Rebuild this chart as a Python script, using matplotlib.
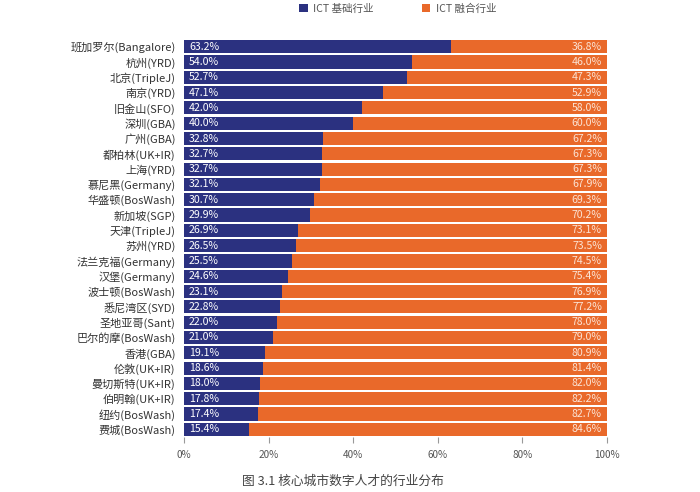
import numpy as np
import matplotlib.pyplot as plt

plt.rcParams['font.family'] = ['Noto Sans CJK SC', 'DejaVu Sans']

cities = ['班加罗尔(Bangalore)', '杭州(YRD)', '北京(TripleJ)', '南京(YRD)', '旧金山(SFO)',
          '深圳(GBA)', '广州(GBA)', '都柏林(UK+IR)', '上海(YRD)', '慕尼黑(Germany)',
          '华盛顿(BosWash)', '新加坡(SGP)', '天津(TripleJ)', '苏州(YRD)', '法兰克福(Germany)',
          '汉堡(Germany)', '波士顿(BosWash)', '悉尼湾区(SYD)', '圣地亚哥(Sant)', '巴尔的摩(BosWash)',
          '香港(GBA)', '伦敦(UK+IR)', '曼切斯特(UK+IR)', '伯明翰(UK+IR)', '纽约(BosWash)', '费城(BosWash)']
basic = [63.2, 54.0, 52.7, 47.1, 42.0, 40.0, 32.8, 32.7, 32.7, 32.1, 30.7, 29.9, 26.9, 26.5,
         25.5, 24.6, 23.1, 22.8, 22.0, 21.0, 19.1, 18.6, 18.0, 17.8, 17.4, 15.4]
fused = [36.8, 46.0, 47.3, 52.9, 58.0, 60.0, 67.2, 67.3, 67.3, 67.9, 69.3, 70.2, 73.1, 73.5,
         74.5, 75.4, 76.9, 77.2, 78.0, 79.0, 80.9, 81.4, 82.0, 82.2, 82.7, 84.6]
ticks = [0, 20, 40, 60, 80, 100]

navy = '#2b3180'
orange = '#e9692a'
grey = '#555555'

fig = plt.figure(figsize=(7, 4.92), dpi=100)
ax = fig.add_axes([184/700, 1 - 437/492, 423/700, 398/492])

y = np.arange(len(cities))
ax.barh(y, basic, height=0.86, color=navy, label='ICT 基础行业')
ax.barh(y, fused, left=basic, height=0.86, color=orange, label='ICT 融合行业')

for i in range(len(cities)):
    ax.text(1.2, y[i], f'{basic[i]:.1f}%', color='white', va='center', ha='left', fontsize=7.6)
    ax.text(98.8, y[i], f'{fused[i]:.1f}%', color='#fbe3d4', va='center', ha='right', fontsize=7.6)

ax.set_ylim(len(cities) - 0.5, -0.5)
ax.set_xlim(0, 100)
ax.set_yticks(y)
ax.set_yticklabels(cities, fontsize=8, color='#333333')
ax.set_xticks(ticks)
ax.set_xticklabels([f'{t}%' for t in ticks], fontsize=7.2, color=grey)
ax.tick_params(axis='y', length=0, pad=6)
ax.tick_params(axis='x', length=4, color='#999999', pad=5)
for s in ax.spines.values():
    s.set_visible(False)

fig.legend(loc='upper center', bbox_to_anchor=(0.568, 1.012), ncol=2, frameon=False,
           fontsize=7.6, handlelength=0.8, handleheight=0.8, columnspacing=4.6, handletextpad=0.5,
           labelcolor=grey)

fig.text(0.49, 0.014, '图 3.1 核心城市数字人才的行业分布', ha='center', fontsize=9.2, color='#444444')

fig.savefig('out.png', dpi=100)
